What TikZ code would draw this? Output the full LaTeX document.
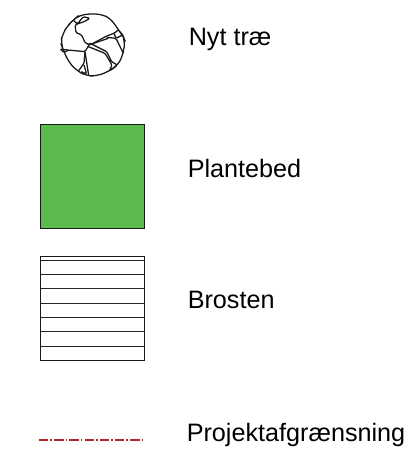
\documentclass[tikz,border=0pt]{standalone}
\usepackage{fontspec}
\setmainfont{Liberation Sans}
\definecolor{bedgreen}{RGB}{90,186,75}
\definecolor{limitred}{RGB}{170,40,45}
\tikzset{
  lbl/.style={anchor=west,inner sep=0pt,font=\fontsize{18.9}{22}\selectfont,text=black},
  legendbox/.style={draw=black!90,line width=0.7pt},
  crack/.style={draw=black!90,line width=0.95pt,line join=round,rounded corners=1pt},
  pave/.style={draw=black!85,line width=0.65pt},
  limitline/.style={draw=limitred,line width=1pt,dash pattern=on 7pt off 1.5pt on 1.2pt off 1.7pt}
}
\begin{document}
\begin{tikzpicture}[x=0.75pt,y=-0.75pt]
\useasboundingbox (0,0) rectangle (409,456);
% tree
\begin{scope}[shift={(40,0)},x=0.25pt,y=-0.25pt]
\draw[crack,rounded corners=5pt] (150,42) -- (185,42) -- (215,58) -- (235,90) -- (248,105) -- (255,122) -- (250,160) -- (235,195) -- (205,215) -- (170,228) -- (140,228) -- (110,212) -- (85,185) -- (70,150) -- (62,130) -- (68,100) -- (85,75) -- (100,60) -- (118,45) -- (150,42);
\draw[crack] (100,60) -- (112,72) -- (130,50) -- (150,55) -- (132,65) -- (112,72) -- (105,75) -- (108,98) -- (125,105) -- (135,128) -- (150,135) -- (200,108) -- (222,100) -- (235,90);
\draw[crack] (222,100) -- (228,115) -- (248,105);
\draw[crack] (200,112) -- (228,115) -- (250,160);
\draw[crack] (155,132) -- (205,115);
\draw[crack] (150,130) -- (135,155) -- (85,150) -- (72,158) -- (62,148);
\draw[crack] (62,148) -- (85,150);
\draw[crack] (135,155) -- (146,226);
\draw[crack] (135,155) -- (132,190) -- (116,212);
\draw[crack] (132,195) -- (140,222) -- (124,215);
\draw[crack] (150,130) -- (200,155) -- (215,185) -- (232,195) -- (208,213) -- (216,195) -- (195,160) -- (145,140);
\end{scope}
\node[lbl] (tree) at (188.5,39) {Nyt træ};
% planting bed
\node[legendbox,fill=bedgreen,minimum width=78pt,minimum height=78.5pt,inner sep=0pt] (bed) at (92.5,176.5) {};
\node[lbl] (bedlabel) at (187.5,168) {Plantebed};
% paving
\foreach \yy in {260,274,288.5,303,317.3,331.7,346}{
  \draw[pave] (40,\yy) -- (144,\yy);
}
\draw[legendbox] (40,256) rectangle (144,360.5);
\node[lbl] (paving) at (187.5,300) {Brosten};
% boundary
\coordinate (la) at (39,440);
\coordinate (lb) at (144,440);
\draw[limitline] (la) -- (lb);
\node[lbl] (limit) at (186.5,435) {Projektafgrænsning};
\end{tikzpicture}
\end{document}
